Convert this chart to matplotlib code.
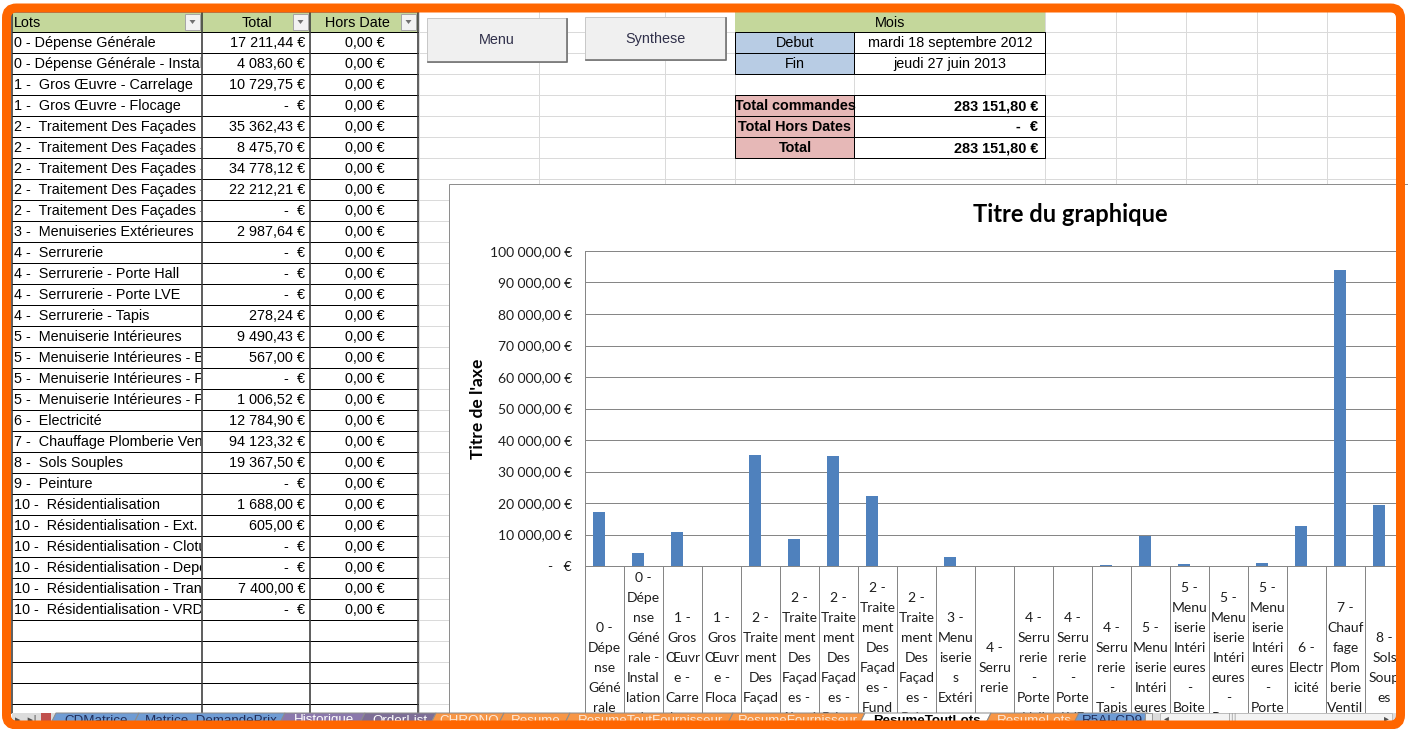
import matplotlib
matplotlib.use("Agg")
import matplotlib.pyplot as plt
import matplotlib.ticker as ticker
import numpy as np
from matplotlib.patches import Rectangle, Polygon, FancyBboxPatch

W, H = 1408, 729
PT = 72 / 100  # points per pixel at dpi 100

# ---- data ----
lots = [
    "0 - Dépense Générale",
    "0 - Dépense Générale - Installation de chantier",
    "1 -  Gros Œuvre - Carrelage",
    "1 -  Gros Œuvre - Flocage",
    "2 -  Traitement Des Façades",
    "2 -  Traitement Des Façades - Aluminium",
    "2 -  Traitement Des Façades - Brique",
    "2 -  Traitement Des Façades - Fundermax",
    "2 -  Traitement Des Façades - Peinture",
    "3 -  Menuiseries Extérieures",
    "4 -  Serrurerie",
    "4 -  Serrurerie - Porte Hall",
    "4 -  Serrurerie - Porte LVE",
    "4 -  Serrurerie - Tapis",
    "5 -  Menuiserie Intérieures",
    "5 -  Menuiserie Intérieures - Boite aux lettres",
    "5 -  Menuiserie Intérieures - Porte palière",
    "5 -  Menuiserie Intérieures - Porte de cave",
    "6 -  Electricité",
    "7 -  Chauffage Plomberie Ventilation",
    "8 -  Sols Souples",
    "9 -  Peinture",
    "10 -  Résidentialisation",
    "10 -  Résidentialisation - Ext.",
    "10 -  Résidentialisation - Cloture",
    "10 -  Résidentialisation - Depose",
    "10 -  Résidentialisation - Transformateur",
    "10 -  Résidentialisation - VRD",
]

# category labels as Excel wraps them in the narrow category slots
axis_labels = [
    "0 -\nDépe\nnse\nGéné\nrale",
    "0 -\nDépe\nnse\nGéné\nrale -\nInstal\nlation\nde\nchant\nier",
    "1 -\nGros\nŒuvr\ne -\nCarre\nlage",
    "1 -\nGros\nŒuvr\ne -\nFloca\nge",
    "2 -\nTraite\nment\nDes\nFaçad\nes",
    "2 -\nTraite\nment\nDes\nFaçad\nes -\nAlumi\nnium",
    "2 -\nTraite\nment\nDes\nFaçad\nes -\nBriqu\ne",
    "2 -\nTraite\nment\nDes\nFaçad\nes -\nFund\nerma\nx",
    "2 -\nTraite\nment\nDes\nFaçad\nes -\nPeint\nure",
    "3 -\nMenu\niserie\ns\nExtéri\neures",
    "4 -\nSerru\nrerie",
    "4 -\nSerru\nrerie\n-\nPorte\nHall",
    "4 -\nSerru\nrerie\n-\nPorte\nLVE",
    "4 -\nSerru\nrerie\n-\nTapis",
    "5 -\nMenu\niserie\nIntéri\neures",
    "5 -\nMenu\niserie\nIntéri\neures\n-\nBoite\naux\nlettres",
    "5 -\nMenu\niserie\nIntéri\neures\n-\nPorte\npalière",
    "5 -\nMenu\niserie\nIntéri\neures\n-\nPorte\nde\ncave",
    "6 -\nElectr\nicité",
    "7 -\nChauf\nfage\nPlom\nberie\nVentil\nation",
    "8 -\nSols\nSoup\nes",
    "9 -\nPeint\nure",
    "10 -\nRésid\nentiali\nsation",
    "10 -\nRésid\nentiali\nsation\n-\nExt.",
    "10 -\nRésid\nentiali\nsation\n-\nClotu\nre",
    "10 -\nRésid\nentiali\nsation\n-\nDépos\ne",
    "10 -\nRésid\nentiali\nsation\n-\nTrans\nfo",
    "10 -\nRésid\nentiali\nsation\n-\nVRD",
]

totals = [17211.44, 4083.60, 10729.75, 0.0, 35362.43, 8475.70, 34778.12,
          22212.21, 0.0, 2987.64, 0.0, 0.0, 0.0, 278.24, 9490.43, 567.00,
          0.0, 1006.52, 12784.90, 94123.32, 19367.50, 0.0, 1688.00, 605.00,
          0.0, 0.0, 7400.00, 0.0]
hors_date = [0.0, 0.0, 0.0, 0.0, 0.0, 0.0, 0.0, 0.0, 0.0, 0.0, 0.0, 0.0,
             0.0, 0.0, 0.0, 0.0, 0.0, 0.0, 0.0, 0.0, 0.0, 0.0, 0.0, 0.0,
             0.0, 0.0, 0.0, 0.0]

period_start = "mardi 18 septembre 2012"
period_end = "jeudi 27 juin 2013"

sheet_tabs = ["CDMatrice", "Matrice_DemandePrix", "Historique", "OrderList",
              "CHRONO", "Resume", "ResumeToutFournisseur", "ResumeFournisseur",
              "ResumeToutLots", "ResumeLots", "R5AI-CD9"]
active_tab = "ResumeToutLots"

# ---- layout / styles ----
ARIAL = "Liberation Sans"
CALIBRI = "Lato"
ROW_H = 21
ROW0 = 32
tab_edges = [52, 135, 281, 361, 432, 500, 566, 729, 861, 987, 1075, 1144]
tab_fill = ["#6F9CD4", "#6F9CD4", "#8B78AC", "#7D6E96", "#F79646", "#F79646",
            "#F79646", "#F79646", "#FFFFFF", "#F79646", "#6F9CD4"]
tab_ink = ["#1F2D5A", "#1F2D5A", "#FFFFFF", "#FFFFFF", "#FDE9D9", "#FDE9D9",
           "#FDE9D9", "#FDE9D9", "#000000", "#FDE9D9", "#1F2D5A"]


def euro(v):
    return f"{v:,.2f}".replace(",", " ").replace(".", ",") + " €"


fig = plt.figure(figsize=(W / 100, H / 100), dpi=100)
fig.patch.set_facecolor("white")
renderer = fig.canvas.get_renderer()

bg = fig.add_axes([0, 0, 1, 1], zorder=0)
bg.set_xlim(0, W)
bg.set_ylim(H, 0)
bg.axis("off")

# sheet gridlines (below every cell fill)
grid_c = "#DADADA"
for gx in [419, 539, 664.5, 734.5, 854, 1045, 1115.5, 1186, 1256.5, 1327]:
    bg.plot([gx, gx], [12, 713], color=grid_c, lw=PT, zorder=0.5)
for k in range(33):
    gy = ROW0 + ROW_H * k
    bg.plot([418, 1397], [gy, gy], color=grid_c, lw=PT, zorder=0.5)

# ---- left table ----
bg.add_patch(Rectangle((12, 12), 406, 20, fc="#C4D79B", ec="none"))
bg.text(14, 22.5, "Lots", family=ARIAL, size=10.4, va="center", ha="left")
bg.text(257, 22.5, "Total", family=ARIAL, size=10.4, va="center", ha="center")
bg.text(357, 22.5, "Hors Date", family=ARIAL, size=10.4, va="center", ha="center")
for dx in [185, 293, 401]:
    bg.add_patch(Rectangle((dx, 14), 15, 16, fc="#F2F2F2", ec="#A6A6A6", lw=PT))
    bg.add_patch(Polygon([(dx + 4.5, 20), (dx + 10.5, 20), (dx + 7.5, 24)],
                         closed=True, fc="#707070", ec="none"))

for i, (lot, tot, hd) in enumerate(zip(lots, totals, hors_date)):
    yc = ROW0 + ROW_H * (i + 0.5) + 0.5
    # Excel cuts the lot name at the cell border: keep what fits plus one clipped glyph
    t = bg.text(14, yc, lot, family=ARIAL, size=10.4, va="center", ha="left")
    n = len(lot)
    while n > 1 and t.get_window_extent(renderer).x1 > 201:
        n -= 1
        t.set_text(lot[:n])
    if n < len(lot):
        t.set_text(lot[:n + 1].rstrip())
    t.set_clip_on(True)
    t.set_clip_path(Rectangle((12, ROW0 + ROW_H * i), 189, ROW_H, transform=bg.transData))
    if tot == 0:
        bg.text(286, yc, "-", family=ARIAL, size=10.4, va="center", ha="center")
        bg.text(305, yc, "€", family=ARIAL, size=10.4, va="center", ha="right")
    else:
        bg.text(305, yc, euro(tot), family=ARIAL, size=10.4, va="center", ha="right")
    bg.text(365, yc, euro(hd), family=ARIAL, size=10.4, va="center", ha="center")

for k in range(33):
    gy = ROW0 + ROW_H * k
    if gy < 713:
        bg.plot([12, 418], [gy, gy], color="black", lw=PT)
bg.plot([12, 418], [12, 12], color="#808080", lw=PT)
for vx in [12, 202, 310, 418]:
    bg.plot([vx, vx], [12, 713], color="#3A3A3A", lw=1.6 * PT)


# ---- buttons ----
def button(x0, y0, w, h, label):
    bg.add_patch(Rectangle((x0, y0), w, h, fc="#F0F0F0", ec="#C8C8C8", lw=PT))
    bg.plot([x0 + 1, x0 + w, x0 + w], [y0 + h, y0 + h, y0 + 1], color="#6E6E6E", lw=1.6 * PT)
    bg.text(x0 + w / 2, y0 + h / 2, label, family=ARIAL, size=10.4, color="#30304A",
            ha="center", va="center")


button(427, 18, 140, 44, "Menu")
button(585, 17, 141, 43, "Synthese")

# ---- period / totals block ----
bg.add_patch(Rectangle((734.5, 12), 310.5, 20, fc="#C4D79B", ec="none"))
bg.text(890, 22.5, "Mois", family=ARIAL, size=10.4, ha="center", va="center")
for j, (lab, val) in enumerate([("Debut", period_start), ("Fin", period_end)]):
    y0 = ROW0 + ROW_H * j
    bg.add_patch(Rectangle((734.5, y0), 119.5, ROW_H, fc="#B8CCE4", ec="black", lw=PT))
    bg.add_patch(Rectangle((854, y0), 191, ROW_H, fc="white", ec="black", lw=PT))
    bg.text(795, y0 + ROW_H / 2 + 0.5, lab, family=ARIAL, size=10.4, ha="center", va="center")
    bg.text(950, y0 + ROW_H / 2 + 0.5, val, family=ARIAL, size=10.4, ha="center", va="center")

grand = sum(totals)
outside = sum(hors_date)
summary = [("Total commandes", euro(grand)), ("Total Hors Dates", None),
           ("Total", euro(grand + outside))]
for j, (lab, val) in enumerate(summary):
    y0 = ROW0 + ROW_H * (3 + j)
    yc = y0 + ROW_H / 2 + 0.5
    bg.add_patch(Rectangle((734.5, y0), 119.5, ROW_H, fc="#E6B8B7", ec="black", lw=PT))
    bg.add_patch(Rectangle((854, y0), 191, ROW_H, fc="white", ec="black", lw=PT))
    bg.text(795, yc, lab, family=ARIAL, size=10.4, weight="bold", ha="center", va="center")
    if val is None:
        bg.text(1018, yc, "-", family=ARIAL, size=10.4, weight="bold", ha="center", va="center")
        bg.text(1038, yc, "€", family=ARIAL, size=10.4, weight="bold", ha="right", va="center")
    else:
        bg.text(1038, yc, val, family=ARIAL, size=10.4, weight="bold", ha="right", va="center")

# ---- embedded chart ----
bg.add_patch(Rectangle((448.5, 183.5), 1100, 700, fc="white", ec="#8E8E8E", lw=PT, zorder=3))
bg.text(1070, 214, "Titre du graphique", family=CALIBRI, weight="bold", size=17,
        ha="center", va="center", zorder=4)

cat_w = 39
left, right, top, bottom = 585, 1397, 251, 566
ax = fig.add_axes([left / W, (H - bottom) / H, (right - left) / W, (bottom - top) / H], zorder=1)
ax.patch.set_visible(False)

x = np.arange(len(totals))
bw = 0.285
ax.bar(x - bw / 2, totals, width=bw, color="#4F81BD", zorder=3)
ax.bar(x + bw / 2, hors_date, width=bw, color="#C0504D", zorder=3)

ax.yaxis.set_major_locator(ticker.MultipleLocator(10000))
ax.yaxis.set_major_formatter(ticker.FuncFormatter(lambda v, p: "-   €" if v == 0 else euro(v)))
ax.grid(axis="y", color="#868686", lw=PT)
ax.set_axisbelow(True)
for s in ["top", "right"]:
    ax.spines[s].set_visible(False)
for s in ["left", "bottom"]:
    ax.spines[s].set_color("#868686")
    ax.spines[s].set_linewidth(PT)

ax.tick_params(axis="y", length=0, pad=13 * PT, labelsize=10, labelcolor="#1E1E1E")
ax.set_xticks(x, labels=axis_labels)
ax.set_xticks(np.arange(len(totals) + 1) - 0.5, minor=True)
ax.tick_params(axis="x", which="major", length=0, pad=102 * PT, labelsize=10, labelcolor="#1E1E1E")
ax.tick_params(axis="x", which="minor", length=150 * PT, width=PT, color="#868686")
plt.setp(ax.get_xticklabels(), va="center", linespacing=1.8, family=CALIBRI)
plt.setp(ax.get_yticklabels(), family=CALIBRI)
ax.set_ylabel("Titre de l'axe", family=CALIBRI, weight="bold", size=12.5)
ax.yaxis.set_label_coords((486 - left) / (right - left), 0.5)
# the plot area runs on past the visible sheet: only the first slots show
ax.set_xlim(-0.5, -0.5 + (right - left) / cat_w)
ax.set_ylim(0, 100000)

# ---- sheet tabs + orange frame on top ----
ov = fig.add_axes([0, 0, 1, 1], zorder=5)
ov.set_xlim(0, W)
ov.set_ylim(H, 0)
ov.axis("off")

ov.add_patch(Rectangle((12, 713), 1386, 16, fc="#DCDCDC", ec="none"))
ov.text(15, 719.5, "▸  ▸|", family="DejaVu Sans", size=8, color="#505050", va="center")
ov.add_patch(Rectangle((41, 713), 10, 16, fc="#C0504D", ec="none"))
for name, xl, xr, fc, ink in zip(sheet_tabs, tab_edges[:-1], tab_edges[1:], tab_fill, tab_ink):
    ov.add_patch(Polygon([(xl - 4, 729), (xl + 4, 713), (xr + 4, 713), (xr - 4, 729)],
                         closed=True, fc=fc, ec="#8C8C8C", lw=PT))
    ov.text((xl + xr) / 2 + 3, 720.5, name, family=ARIAL, size=9.6, color=ink,
            weight="bold" if name == active_tab else "normal", ha="center", va="center")
ov.add_patch(Rectangle((1145, 713), 7, 10, fc="#EDEDED", ec="#9A9A9A", lw=PT))
ov.add_patch(Rectangle((1160, 713), 232, 16, fc="#F3F3F3", ec="#BDBDBD", lw=PT))
ov.text(1166, 718, "◂", family="DejaVu Sans", size=7, color="#505050", ha="center", va="center")
ov.text(1232, 718, "|||", family="DejaVu Sans", size=6, color="#9A9A9A", ha="center", va="center")
ov.text(1386, 718, "▸", family="DejaVu Sans", size=7, color="#505050", ha="center", va="center")

ov.add_patch(FancyBboxPatch((6.5, 8), 1394, 717, boxstyle="round,pad=0,rounding_size=10",
                            fill=False, ec="#FF6600", lw=9 * PT, zorder=11))

fig.savefig("out.png", dpi=100)
